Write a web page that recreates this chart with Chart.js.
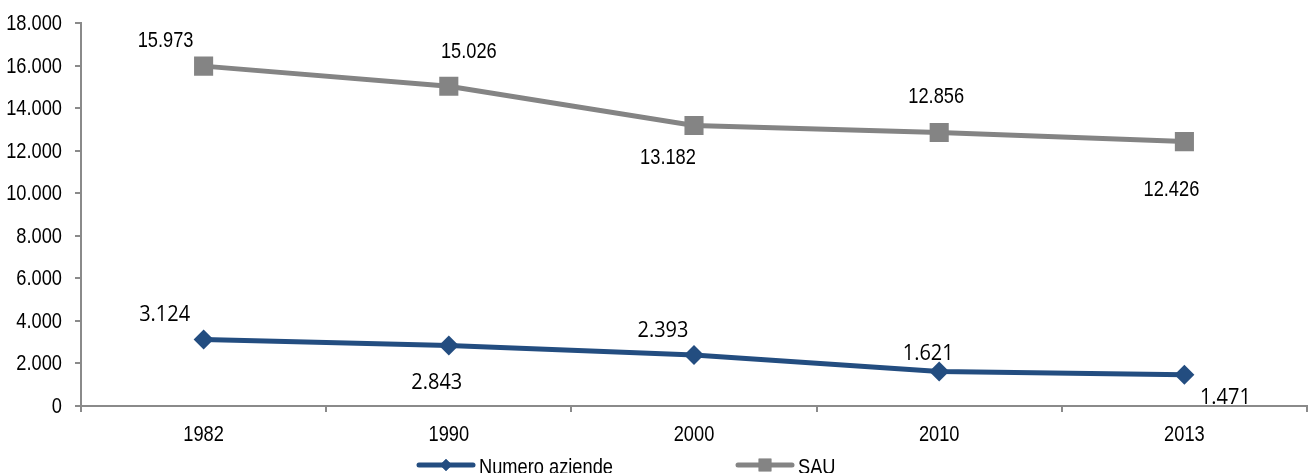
<!DOCTYPE html>
<html>
<head>
<meta charset="utf-8">
<script src="https://cdn.jsdelivr.net/npm/chart.js@4/dist/chart.umd.min.js"></script>
<style>
  html, body { margin: 0; padding: 0; background: #ffffff; }
  #wrap { width: 1310px; height: 473px; }
</style>
</head>
<body>
<div id="wrap"><canvas id="c" width="1310" height="473"></canvas></div>
<script>
// Anni di rilevazione
const years = ['1982', '1990', '2000', '2010', '2013'];

// Numero di aziende agricole
const numeroAziende = [3124, 2843, 2393, 1621, 1471];

// Superficie agricola utilizzata (ettari)
const sau = [15973, 15026, 13182, 12856, 12426];

// Etichette dell'asse verticale
const yTicks = [0, 2000, 4000, 6000, 8000, 10000, 12000, 14000, 16000, 18000];

const seriesNames = ['Numero aziende', 'SAU'];

const BLUE = '#234d80';
const GREY = '#848484';
const AXIS = '#8a8a8a';
const SANS = '"Liberation Sans", Arial, sans-serif';
const OPEN = '"Open Sans", "DejaVu Sans", sans-serif';

// formato italiano: punto come separatore delle migliaia
function fmtIt(v) {
  const s = String(Math.round(v));
  return s.replace(/\B(?=(\d{3})+(?!\d))/g, '.');
}

// testo leggermente stretto in orizzontale (carattere "narrow")
function drawText(ctx, text, x, y, opts) {
  const o = Object.assign({ size: 22, family: SANS, sx: 0.83, align: 'center' }, opts);
  ctx.save();
  ctx.font = o.size + 'px ' + o.family;
  ctx.fillStyle = '#000000';
  ctx.textAlign = o.align;
  ctx.textBaseline = 'alphabetic';
  ctx.translate(x, y);
  ctx.scale(o.sx, 1);
  // y indica il centro delle cifre
  ctx.fillText(text, 0, Math.round(o.size * 0.358));
  ctx.restore();
}

// spostamento delle etichette di valore rispetto al punto
const labelShift = [
  [[-39, -27], [-12, 35], [-31, -26], [-11, -20], [41, 21]],
  [[-38, -27], [20, -36], [-26, 30], [-3, -37], [-13, 46]]
];
const labelStyle = [
  { size: 21, family: OPEN, sx: 0.95 },
  { size: 22, family: SANS, sx: 0.83 }
];

const valueLabels = {
  id: 'valueLabels',
  afterDatasetsDraw(chart) {
    const ctx = chart.ctx;
    chart.data.datasets.forEach((ds, di) => {
      const meta = chart.getDatasetMeta(di);
      meta.data.forEach((pt, i) => {
        const [dx, dy] = labelShift[di][i];
        drawText(ctx, fmtIt(ds.data[i]), pt.x + dx, pt.y + dy, labelStyle[di]);
      });
    });
  }
};

// etichette degli assi, posizionate dalle scale del grafico
const axisLabels = {
  id: 'axisLabels',
  afterDraw(chart) {
    const ctx = chart.ctx;
    const xs = chart.scales.x, ys = chart.scales.y;
    xs.ticks.forEach((t, i) => {
      drawText(ctx, xs.getLabelForValue(t.value), xs.getPixelForTick(i), xs.top + 27);
    });
    ys.ticks.forEach((t, i) => {
      drawText(ctx, fmtIt(t.value), ys.right - 19, ys.getPixelForTick(i) - 1, { align: 'right' });
    });
  }
};

// legenda in basso: linea con marcatore + testo
const bottomLegend = {
  id: 'bottomLegend',
  afterDraw(chart) {
    const ctx = chart.ctx;
    const y = 465;
    const items = [
      { x: 417, color: BLUE, style: 'rectRot', r: 6, text: seriesNames[0] },
      { x: 736, color: GREY, style: 'rect', r: 9, text: seriesNames[1] }
    ];
    items.forEach(it => {
      ctx.save();
      ctx.strokeStyle = it.color;
      ctx.lineWidth = 5;
      ctx.lineCap = 'round';
      ctx.beginPath();
      ctx.moveTo(it.x + 2, y);
      ctx.lineTo(it.x + 56, y);
      ctx.stroke();
      ctx.fillStyle = it.color;
      Chart.helpers.drawPoint(ctx, { pointStyle: it.style, radius: it.r, borderWidth: 0 }, it.x + 29, y);
      ctx.fill();
      ctx.restore();
      drawText(ctx, it.text, it.x + 62, y + 1, { align: 'left' });
    });
  }
};

function build() {
  new Chart(document.getElementById('c'), {
    type: 'line',
    data: {
      labels: years,
      datasets: [
        {
          label: seriesNames[0],
          data: numeroAziende,
          borderColor: BLUE,
          backgroundColor: BLUE,
          borderWidth: 5,
          pointStyle: 'rectRot',
          pointRadius: 10,
          pointBorderWidth: 0,
          pointBackgroundColor: BLUE,
          tension: 0
        },
        {
          label: seriesNames[1],
          data: sau,
          borderColor: GREY,
          backgroundColor: GREY,
          borderWidth: 5,
          pointStyle: 'rect',
          pointRadius: 13.5,
          pointBorderWidth: 0,
          pointBackgroundColor: GREY,
          tension: 0
        }
      ]
    },
    options: {
      responsive: false,
      animation: false,
      layout: {
        autoPadding: false,
        padding: { top: 23, right: 3, bottom: 0, left: 0 }
      },
      plugins: {
        legend: { display: false },
        tooltip: { enabled: false }
      },
      scales: {
        x: {
          offset: true,
          border: { display: true, color: AXIS, width: 2 },
          grid: {
            offset: true,
            drawOnChartArea: false,
            drawTicks: true,
            tickLength: 6,
            color: AXIS,
            lineWidth: 2
          },
          ticks: { display: false },
          afterFit(scale) {
            scale.height = 67;
            scale.paddingLeft = 0;
            scale.paddingRight = 0;
          }
        },
        y: {
          min: 0,
          max: 18000,
          afterBuildTicks(scale) { scale.ticks = yTicks.map(v => ({ value: v })); },
          border: { display: true, color: AXIS, width: 2 },
          grid: {
            drawOnChartArea: false,
            drawTicks: true,
            tickLength: 6,
            color: AXIS,
            lineWidth: 2
          },
          ticks: { display: false },
          afterFit(scale) {
            scale.width = 81;
            scale.paddingTop = 0;
            scale.paddingBottom = 0;
          }
        }
      }
    },
    plugins: [valueLabels, axisLabels, bottomLegend]
  });
}

Promise.all([
  document.fonts.load('22px "Liberation Sans"'),
  document.fonts.load('21px "Open Sans"')
]).then(build, build);
</script>
</body>
</html>
